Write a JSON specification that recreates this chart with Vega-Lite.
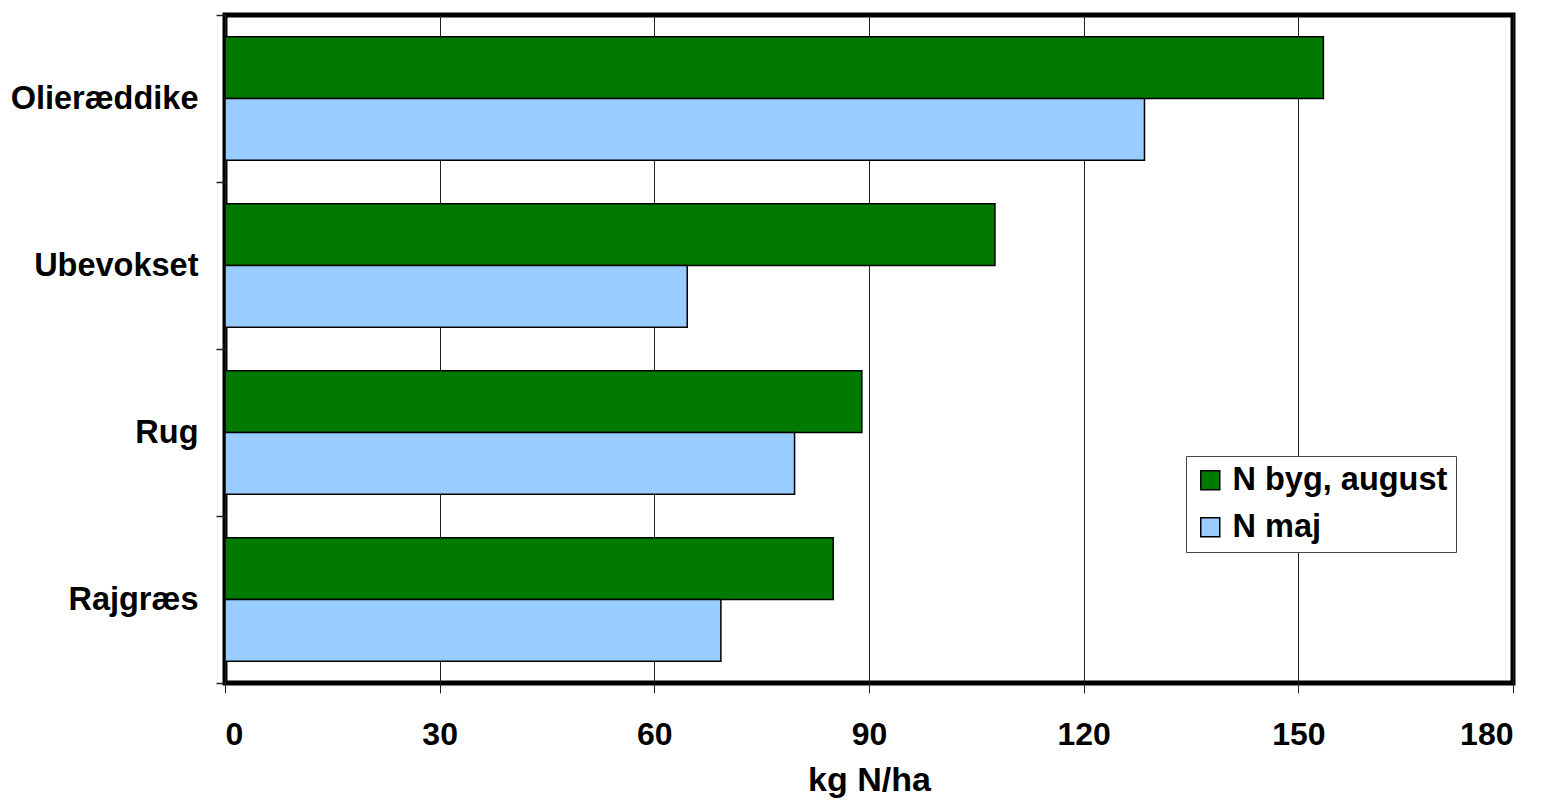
{
  "$schema": "https://vega.github.io/schema/vega-lite/v6.json",
  "autosize": {"type": "none"},
  "width": 1288,
  "height": 668,
  "padding": {"left": 225, "top": 15, "right": 33, "bottom": 119},
  "background": "white",
  "data": {
    "values": [
      {"crop": "Olieræddike", "series": "N byg, august", "value": 153.5},
      {"crop": "Olieræddike", "series": "N maj", "value": 128.5},
      {"crop": "Ubevokset", "series": "N byg, august", "value": 107.6},
      {"crop": "Ubevokset", "series": "N maj", "value": 64.6},
      {"crop": "Rug", "series": "N byg, august", "value": 89.0},
      {"crop": "Rug", "series": "N maj", "value": 79.6},
      {"crop": "Rajgræs", "series": "N byg, august", "value": 85.0},
      {"crop": "Rajgræs", "series": "N maj", "value": 69.3}
    ]
  },
  "mark": {"type": "bar", "stroke": "black", "strokeWidth": 1.5},
  "encoding": {
    "y": {
      "field": "crop",
      "type": "nominal",
      "sort": ["Olieræddike", "Ubevokset", "Rug", "Rajgræs"],
      "scale": {"paddingInner": 0, "paddingOuter": 0},
      "axis": {
        "title": null,
        "tickBand": "extent",
        "grid": false,
        "domain": false,
        "tickSize": 9,
        "tickColor": "#222",
        "tickWidth": 1.5,
        "labelPadding": 18,
        "labelFont": "Liberation Sans",
        "labelFontSize": 32.5,
        "labelFontWeight": "bold",
        "labelColor": "black",
        "labelLimit": 400
      }
    },
    "yOffset": {
      "field": "series",
      "type": "nominal",
      "scale": {"paddingInner": 0, "paddingOuter": 0.35}
    },
    "x": {
      "field": "value",
      "type": "quantitative",
      "scale": {"domain": [0, 180], "nice": false},
      "axis": {
        "title": "kg N/ha",
        "values": [0, 30, 60, 90, 120, 150, 180],
        "grid": true,
        "gridColor": "#222",
        "gridWidth": 1,
        "domain": false,
        "tickSize": 10,
        "tickColor": "#222",
        "tickWidth": 1,
        "labelPadding": 26,
        "labelFont": "Liberation Sans",
        "labelFontSize": 32,
        "labelFontWeight": "bold",
        "labelColor": "black",
        "titleFont": "Liberation Sans",
        "titleFontSize": 34,
        "titleFontWeight": "bold",
        "titleColor": "black",
        "titlePadding": 13
      }
    },
    "color": {
      "field": "series",
      "type": "nominal",
      "scale": {"domain": ["N byg, august", "N maj"], "range": ["#007A00", "#99CCFF"]},
      "legend": {
        "title": null,
        "orient": "none",
        "legendX": 961,
        "legendY": 441,
        "symbolType": "square",
        "symbolSize": 361,
        "symbolStrokeColor": "black",
        "symbolStrokeWidth": 1.5,
        "symbolOpacity": 1,
        "labelFont": "Liberation Sans",
        "labelFontSize": 32.5,
        "labelFontWeight": "bold",
        "labelColor": "black",
        "labelLimit": 400,
        "labelOffset": 6,
        "rowPadding": 14,
        "padding": 8,
        "strokeColor": "#444",
        "fillColor": "white",
        "cornerRadius": 0
      }
    }
  },
  "config": {
    "view": {"stroke": "black", "strokeWidth": 5},
    "legend": {"symbolStrokeWidth": 1.5}
  }
}
